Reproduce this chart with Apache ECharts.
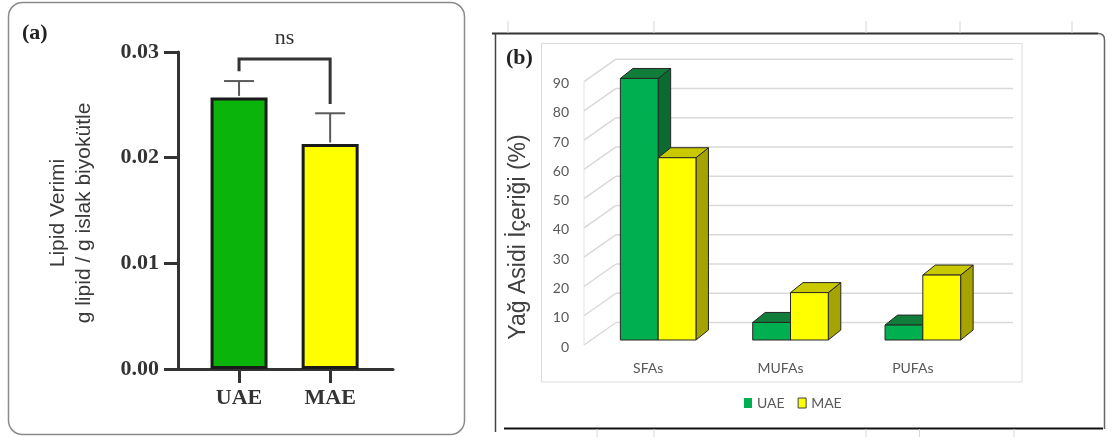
<!DOCTYPE html>
<html>
<head>
<meta charset="utf-8">
<script src="https://cdn.jsdelivr.net/npm/echarts@6/dist/echarts.min.js"></script>
<style>
  html, body { margin: 0; padding: 0; background: #ffffff; }
  #chart { width: 1112px; height: 437px; }
</style>
</head>
<body>
<div id="chart"></div>
<script>
// ---- Panel (a): lipid yield per extraction method ----
const yieldCategories = ['UAE', 'MAE'];
const yieldMeans = [0.0257, 0.0213];
const yieldErrors = [0.00155, 0.0029];
const yieldTicks = [0, 0.01, 0.02, 0.03];
const yieldColors = ['#0ab40a', '#ffff00'];
// significance bracket: left leg end, bracket top, right leg end
const bracketLevels = [0.02819, 0.02933, 0.02507];
const bracketLabel = 'ns';

// ---- Panel (b): fatty acid content (%) ----
const fattyCategories = ['SFAs', 'MUFAs', 'PUFAs'];
const uaeFatty = [89.4, 6.0, 5.1];
const maeFatty = [62.3, 16.2, 22.2];
const fattyTicks = [0, 10, 20, 30, 40, 50, 60, 70, 80, 90];

// oblique depth offsets relative to the bar front plane
const FRONT = [-8, 5];     // front edge of the side wall
const BACK = [24, -17.5];  // back wall
const BAR_DEPTH = [12.5, -10];
const BAR_RATIO = 0.2856;  // bar width as a share of the category band

const faces = {
  UAE: { front: '#00b050', top: '#117d3a', side: '#0b6a30' },
  MAE: { front: '#ffff00', top: '#c9c900', side: '#a5a300' }
};

const chart = echarts.init(document.getElementById('chart'), null, { renderer: 'canvas' });

function wallItem(params, api) {
  const cs = params.coordSys;
  const v = api.value(0);
  const y = api.coord([0, v])[1];
  const lineStyle = { stroke: '#d9d9d9', lineWidth: 1.5 };
  const children = [
    { type: 'line', shape: { x1: cs.x + BACK[0], y1: y + BACK[1], x2: cs.x + cs.width + BACK[0], y2: y + BACK[1] }, style: lineStyle },
    { type: 'line', shape: { x1: cs.x + FRONT[0], y1: y + FRONT[1], x2: cs.x + BACK[0], y2: y + BACK[1] }, style: lineStyle },
    { type: 'text', style: { text: String(v), x: cs.x + FRONT[0] - 15, y: y + FRONT[1] + 2, align: 'right', verticalAlign: 'middle', fill: '#595959', font: '14px Lato' } }
  ];
  if (v === fattyTicks[0]) {
    const yTop = api.coord([0, fattyTicks[fattyTicks.length - 1]])[1];
    children.push({ type: 'line', shape: { x1: cs.x + FRONT[0], y1: y + FRONT[1], x2: cs.x + FRONT[0], y2: yTop + FRONT[1] }, style: { stroke: '#e2e2e2', lineWidth: 1 } });
  }
  return { type: 'group', children };
}

function barItem(side, palette) {
  return function (params, api) {
    const idx = api.value(0);
    const base = api.coord([idx, 0]);
    const top = api.coord([idx, api.value(1)])[1];
    const w = api.size([1, 0])[0] * BAR_RATIO;
    const x0 = side === 'left' ? base[0] - w : base[0];
    const x1 = x0 + w;
    const y0 = base[1];
    const [dx, dy] = BAR_DEPTH;
    const edge = { stroke: '#262626', lineWidth: 1, lineJoin: 'round' };
    return {
      type: 'group',
      children: [
        { type: 'polygon', shape: { points: [[x1, top], [x1 + dx, top + dy], [x1 + dx, y0 + dy], [x1, y0]] }, style: Object.assign({ fill: palette.side }, edge) },
        { type: 'polygon', shape: { points: [[x0, top], [x1, top], [x1 + dx, top + dy], [x0 + dx, top + dy]] }, style: Object.assign({ fill: palette.top }, edge) },
        { type: 'rect', shape: { x: x0, y: top, width: w, height: y0 - top }, style: Object.assign({ fill: palette.front }, edge) }
      ]
    };
  };
}

const serif = 'Liberation Serif, Times New Roman, serif';
const sans = 'Liberation Sans, Arial, sans-serif';

const option = {
  backgroundColor: '#ffffff',
  animation: false,
  grid: [
    { left: 178, top: 52, width: 215, height: 317, outerBoundsMode: 'none' },
    { left: 592, top: 76.7, width: 397, height: 263.3, outerBoundsMode: 'none' }
  ],
  xAxis: [
    {
      type: 'value', gridIndex: 0, min: -0.67, max: 1.69,
      splitLine: { show: false },
      axisLine: { show: true, onZero: false, lineStyle: { color: '#333333', width: 3 } },
      axisTick: { show: true, customValues: [0, 1], length: 14, lineStyle: { color: '#333333', width: 3 } },
      axisLabel: {
        customValues: [0, 1], margin: 18,
        formatter: v => yieldCategories[Math.round(v)],
        color: '#333333', fontFamily: serif, fontWeight: 'bold', fontSize: 22
      }
    },
    {
      type: 'category', gridIndex: 1, data: fattyCategories,
      axisLine: { show: false }, axisTick: { show: false },
      axisLabel: { margin: 21, padding: [0, 20, 0, 0], color: '#595959', fontFamily: 'Lato', fontSize: 14 }
    }
  ],
  yAxis: [
    {
      type: 'value', gridIndex: 0, min: 0, max: 0.03, interval: 0.01,
      splitLine: { show: false },
      axisLine: { show: true, onZero: false, lineStyle: { color: '#333333', width: 3 } },
      axisTick: { show: true, length: 14, lineStyle: { color: '#333333', width: 3 } },
      axisLabel: {
        margin: 19, formatter: v => v.toFixed(2),
        color: '#333333', fontFamily: serif, fontWeight: 'bold', fontSize: 22
      }
    },
    { type: 'value', gridIndex: 1, min: 0, max: 90, interval: 10, show: false }
  ],
  legend: {
    data: [
      { name: 'UAE', itemStyle: { color: faces.UAE.front } },
      { name: 'MAE', itemStyle: { color: faces.MAE.front, borderColor: '#404040', borderWidth: 1 } }
    ],
    left: 744, top: 396, padding: 0, icon: 'rect',
    itemWidth: 8, itemHeight: 10, itemGap: 13, selectedMode: false,
    textStyle: { color: '#595959', fontFamily: 'Lato', fontSize: 14 }
  },
  series: [
    {
      type: 'bar', name: 'yield', xAxisIndex: 0, yAxisIndex: 0, barWidth: 57, z: 2,
      itemStyle: { borderColor: '#1a1a1a', borderWidth: 3 },
      data: yieldMeans.map((v, i) => ({ value: [i, v], itemStyle: { color: yieldColors[i] } }))
    },
    {
      type: 'custom', name: 'yield error', xAxisIndex: 0, yAxisIndex: 0, z: 3,
      data: yieldMeans.map((m, i) => [i, m, m + yieldErrors[i]]),
      renderItem: (params, api) => {
        const p0 = api.coord([api.value(0), api.value(1)]);
        const p1 = api.coord([api.value(0), api.value(2)]);
        const st = { stroke: '#5a5a5a', lineWidth: 2 };
        return {
          type: 'group', children: [
            { type: 'line', shape: { x1: p0[0], y1: p0[1] - 1.5, x2: p1[0], y2: p1[1] }, style: st },
            { type: 'line', shape: { x1: p1[0] - 15, y1: p1[1], x2: p1[0] + 15, y2: p1[1] }, style: st }
          ]
        };
      }
    },
    {
      type: 'custom', name: 'significance', xAxisIndex: 0, yAxisIndex: 0, z: 3,
      data: [[0, 1].concat(bracketLevels)],
      renderItem: (params, api) => {
        const a = api.coord([api.value(0), api.value(2)]);
        const b = api.coord([api.value(0), api.value(3)]);
        const c = api.coord([api.value(1), api.value(3)]);
        const d = api.coord([api.value(1), api.value(4)]);
        return {
          type: 'group', children: [
            { type: 'polyline', shape: { points: [a, b, c, d] }, style: { stroke: '#333333', lineWidth: 3, fill: null } },
            { type: 'text', style: { text: bracketLabel, x: (b[0] + c[0]) / 2, y: b[1] - 21, align: 'center', verticalAlign: 'middle', fill: '#333333', font: '22px ' + serif } }
          ]
        };
      }
    },
    {
      type: 'custom', name: 'walls', xAxisIndex: 1, yAxisIndex: 1, z: 1, silent: true,
      data: fattyTicks.map(v => [v]),
      renderItem: wallItem
    },
    {
      type: 'custom', name: 'UAE', xAxisIndex: 1, yAxisIndex: 1, z: 2,
      itemStyle: { color: faces.UAE.front },
      data: uaeFatty.map((v, i) => [i, v]),
      renderItem: barItem('left', faces.UAE)
    },
    {
      type: 'custom', name: 'MAE', xAxisIndex: 1, yAxisIndex: 1, z: 2,
      itemStyle: { color: faces.MAE.front },
      data: maeFatty.map((v, i) => [i, v]),
      renderItem: barItem('right', faces.MAE)
    }
  ],
  graphic: [
    // panel (a) frame and labels
    { type: 'rect', shape: { x: 8.5, y: 2.5, width: 456, height: 432, r: 14 }, style: { fill: null, stroke: '#8a8a8a', lineWidth: 1.5 }, z: 0 },
    { type: 'text', x: 22, y: 33, style: { text: '(a)', font: 'bold 22px ' + serif, fill: '#222222', verticalAlign: 'middle' } },
    { type: 'text', x: 71, y: 213, rotation: Math.PI / 2, style: { text: 'Lipid Verimi\ng lipid / g islak biyokütle', font: '21px ' + sans, lineHeight: 26, fill: '#3a3a3a', align: 'center', verticalAlign: 'middle' } },
    // panel (b) frame
    { type: 'line', shape: { x1: 492, y1: 33.5, x2: 1098, y2: 33.5 }, style: { stroke: '#333333', lineWidth: 2 } },
    { type: 'bezierCurve', shape: { x1: 1098, y1: 33.5, cpx1: 1104.5, cpy1: 33.5, x2: 1104.5, y2: 40 }, style: { stroke: '#666666', lineWidth: 1.5, fill: null } },
    { type: 'line', shape: { x1: 1104.5, y1: 40, x2: 1104.5, y2: 429 }, style: { stroke: '#666666', lineWidth: 1.5 } },
    { type: 'line', shape: { x1: 495.5, y1: 33.5, x2: 495.5, y2: 432 }, style: { stroke: '#444444', lineWidth: 1.5 } },
    { type: 'line', shape: { x1: 504, y1: 428.5, x2: 1103, y2: 428.5 }, style: { stroke: '#111111', lineWidth: 2 } },
    ...[508, 654, 866, 960, 1072].map(x => ({ type: 'line', shape: { x1: x, y1: 21, x2: x, y2: 33 }, style: { stroke: '#d6d6d6', lineWidth: 1 } })),
    ...[597, 654, 866, 919.5, 1014].map(x => ({ type: 'line', shape: { x1: x, y1: 429, x2: x, y2: 437 }, style: { stroke: '#d6d6d6', lineWidth: 1 } })),
    { type: 'rect', shape: { x: 541.5, y: 43.5, width: 480.5, height: 338.5 }, style: { fill: null, stroke: '#dcdcdc', lineWidth: 1 }, z: 0 },
    { type: 'text', x: 506, y: 58, style: { text: '(b)', font: 'bold 22px ' + serif, fill: '#222222', verticalAlign: 'middle' } },
    { type: 'text', x: 519, y: 237, rotation: Math.PI / 2, style: { text: 'Yağ Asidi İçeriği (%)', font: '23px ' + sans, fill: '#404040', align: 'center', verticalAlign: 'middle' } }
  ]
};

chart.setOption(option);
</script>
</body>
</html>
